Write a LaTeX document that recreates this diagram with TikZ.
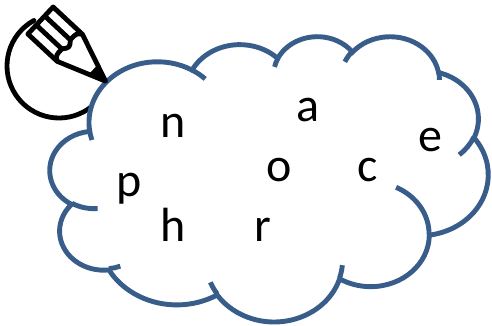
\documentclass[tikz,border=0pt]{standalone}
\usepackage{fontspec}
\setmainfont{Carlito}
\newcommand\prepcloudarc[5]{%
  \pgfmathsetmacro\pcaS{atan2((#2)*sin(#4),(#3)*cos(#4))}%
  \pgfmathsetmacro\pcaE{atan2((#2)*sin((#4)+(#5)),(#3)*cos((#4)+(#5)))}%
  \pgfmathsetmacro\pcaD{mod(\pcaE-\pcaS+720,360)}%
  \expandafter\xdef\csname cld#1\endcsname{arc[start angle=\pcaS,delta angle=\pcaD,x radius=#2,y radius=#3]}%
}
\definecolor{cloudblue}{HTML}{385D8A}
\tikzset{
  cloudline/.style={draw=cloudblue, line width=4.9pt},
  icon/.style={draw=black, line width=4.8pt},
  lt/.style={font=\fontsize{48}{58}\selectfont, inner sep=0pt, anchor=base, text=black},
}
\begin{document}
\begin{tikzpicture}[x=1pt,y=-1pt]
\useasboundingbox (0,0) rectangle (492,325);
% outline arcs
\prepcloudarc{A}{67.53}{91.90}{-190.48748}{123.78053}
\prepcloudarc{B}{53.33}{72.67}{-144.10238}{89.94523}
\prepcloudarc{C}{43.65}{59.45}{-145.80792}{99.72302}
\prepcloudarc{D}{48.57}{65.95}{-130.98607}{117.24173}
\prepcloudarc{E}{53.33}{72.73}{-78.70888}{109.02692}
\prepcloudarc{F}{67.75}{92.20}{-46.26725}{130.269}
\prepcloudarc{G}{57.85}{78.67}{0.62502}{114.03333}
\prepcloudarc{H}{67.52}{92.15}{22.4516}{115.17255}
\prepcloudarc{I}{77.20}{105.43}{66.24263}{75.71102}
\prepcloudarc{J}{43.60}{59.18}{-274.94208}{146.73557}
\prepcloudarc{K}{43.45}{59.45}{-246.8285}{152.51885}
% inner arcs
\prepcloudarc{InA}{43.45}{59.45}{86.742}{26.4295}
\prepcloudarc{InB}{43.60}{59.18}{73.61047}{11.44747}
\prepcloudarc{InC}{67.52}{92.15}{137.62415}{14.0811}
\prepcloudarc{InD}{67.52}{92.15}{6.45327}{15.99835}
\prepcloudarc{InE}{57.85}{78.67}{-70.29235}{70.91737}
\prepcloudarc{InF}{53.33}{72.73}{30.31803}{27.7515}
\prepcloudarc{InG}{48.57}{65.95}{-13.74433}{14.8589}
\prepcloudarc{InH}{48.57}{65.95}{-149.18145}{18.19537}
\prepcloudarc{InI}{43.65}{59.45}{-163.49427}{17.68635}
\prepcloudarc{InJ}{67.53}{91.90}{-66.70695}{12.31935}
\prepcloudarc{InK}{67.53}{91.90}{157.65435}{11.8582}

% circle of the icon (under the cloud)
\coordinate (iconc) at (59,66);
\draw[icon, line cap=round] (iconc) ++(-118.8:52) arc[start angle=-118.8, end angle=-325, radius=52];

% cloud
\begin{scope}[shift={(50.07pt,-35.74pt)},x={(1.01389pt,0pt)},y={(0pt,-0.66019pt)}]
\filldraw[cloudline, fill=white] (39.00,143.70) \cldA \cldB \cldC \cldD \cldE \cldF \cldG \cldH \cldI \cldJ \cldK -- cycle;
\draw[cloudline] (46.93,261.77) \cldInA
  (69.28,348.99) \cldInB
  (164.78,390.90) \cldInC
  (288.27,347.51) \cldInD
  (341.29,229.54) \cldInE
  (417.98,153.54) \cldInF
  (383.24,54.26) \cldInG
  (290.78,39.52) \cldInH
  (221.41,47.20) \cldInI
  (140.00,51.92) \cldInJ
  (41.27,157.89) \cldInK;
\end{scope}

% pencil
\begin{scope}[shift={(40.5pt,-20.5pt)}, rotate=-43]
\draw[icon, line join=round] (0,18.5) -- (40,18.5) -- (89,0) -- (40,-18.5) -- (0,-18.5) -- cycle;
\draw[icon] (0,6.2) -- (35,6.2) (0,-6.2) -- (35,-6.2);
\draw[icon, line join=round] (40,18.5) .. controls (35,15) .. (35,6.2) .. controls (40,0) .. (35,-6.2) .. controls (35,-15) .. (40,-18.5);
\fill[black] (72,6.5) -- (89,0) -- (72,-6.5) -- cycle;
\end{scope}

% letters
\node[lt] (n) at (173.3,137) {n};
\node[lt] (a) at (307.5,121.7) {a};
\node[lt] (e) at (430,151.7) {e};
\node[lt] (p) at (129,196.7) {p};
\node[lt] (o) at (279.2,181.5) {o};
\node[lt] (c) at (367.5,181.5) {c};
\node[lt] (h) at (173.3,241.7) {h};
\node[lt] (r) at (262.5,241.7) {r};
\end{tikzpicture}
\end{document}
